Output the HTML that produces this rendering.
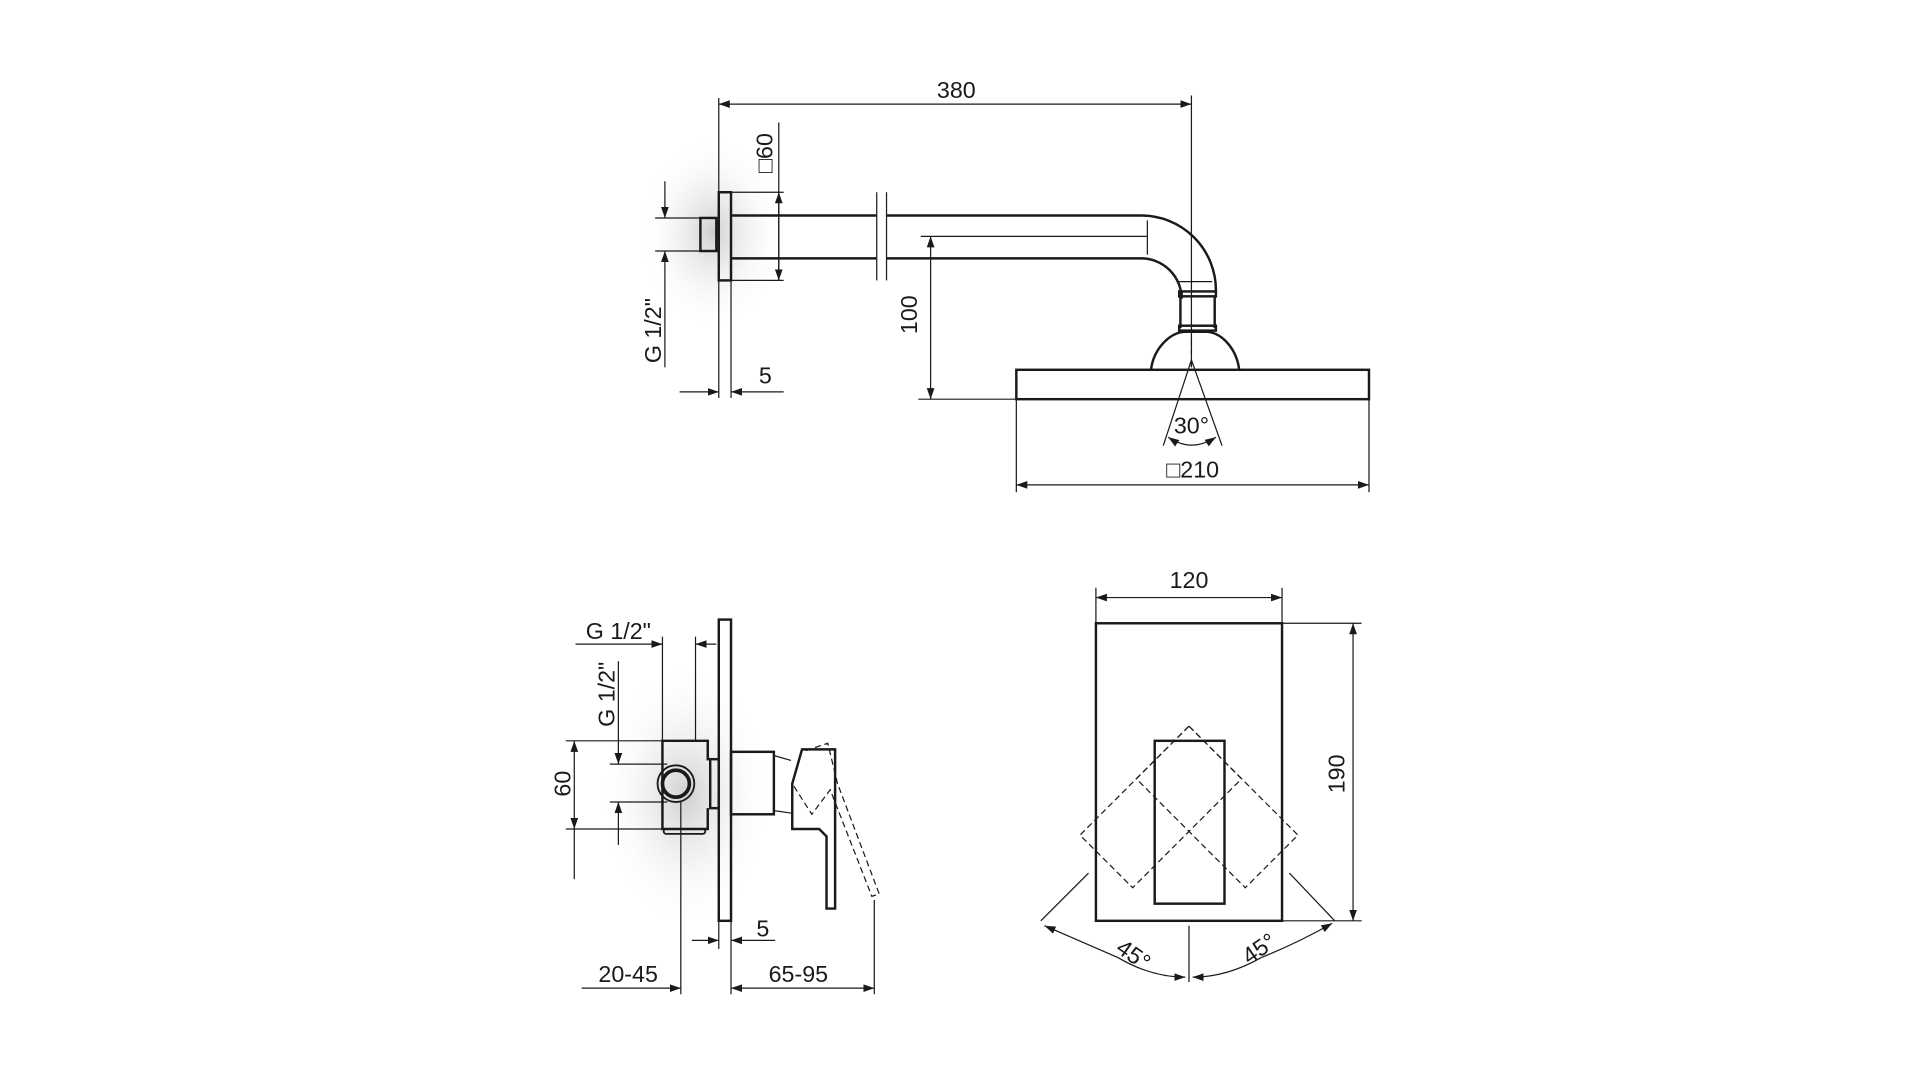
<!DOCTYPE html>
<html><head><meta charset="utf-8"><style>
html,body{margin:0;padding:0;background:#fff;}
svg{display:block}
text{font-family:"Liberation Sans",sans-serif;fill:#1a1a1a}
</style></head><body>
<svg width="1920" height="1080" viewBox="0 0 1568 882" xmlns="http://www.w3.org/2000/svg">
<defs>
<marker id="a" viewBox="0 0 10 10" refX="10" refY="5" markerWidth="9" markerHeight="9" orient="auto-start-reverse" markerUnits="userSpaceOnUse"><path d="M0,1.5 L10,5 L0,8.5 z" fill="#1a1a1a"/></marker>
<radialGradient id="sh" cx="0.5" cy="0.5" r="0.5"><stop offset="0" stop-color="#cfcfd2"/><stop offset="1" stop-color="#fff" stop-opacity="0"/></radialGradient>
</defs>
<ellipse cx="582" cy="190" rx="60" ry="80" fill="url(#sh)"/>
<ellipse cx="560" cy="650" rx="70" ry="110" fill="url(#sh)"/>
<g stroke="#1a1a1a" fill="none" stroke-width="1">
<!-- TOP -->
<line x1="587" y1="85" x2="973" y2="85" marker-start="url(#a)" marker-end="url(#a)"/>
<line x1="587" y1="80" x2="587" y2="325"/><line x1="597" y1="229" x2="597" y2="325"/>
<line x1="973" y1="78" x2="973" y2="300"/>
<rect x="587" y="157" width="10" height="72" stroke-width="2"/>
<rect x="572" y="178" width="13" height="27" stroke-width="2"/>
<line x1="535" y1="178" x2="585" y2="178"/><line x1="535" y1="205" x2="585" y2="205"/>
<line x1="543" y1="148" x2="543" y2="178" marker-end="url(#a)"/>
<line x1="543" y1="300" x2="543" y2="205" marker-end="url(#a)"/>
<line x1="597" y1="157" x2="640" y2="157"/><line x1="597" y1="229" x2="640" y2="229"/>
<line x1="636" y1="100" x2="636" y2="229"/>
<line x1="636" y1="190" x2="636" y2="157" marker-end="url(#a)"/>
<line x1="636" y1="190" x2="636" y2="229" marker-end="url(#a)"/>
<path d="M597,176 H716 M724,176 H932 A61,61 0 0 1 993,237 V238" stroke-width="2"/>
<path d="M597,211 H716 M724,211 H932 A33,33 0 0 1 965,244 V238" stroke-width="2"/>
<line x1="716" y1="157" x2="716" y2="229"/><line x1="724" y1="157" x2="724" y2="229"/>
<line x1="752" y1="193" x2="937" y2="193"/><line x1="937" y1="180" x2="937" y2="208"/>
<line x1="962" y1="230" x2="990" y2="230"/>
<rect x="963" y="238" width="30" height="4" stroke-width="2"/>
<path d="M964,242 V268 M992,242 V268" stroke-width="2"/>
<rect x="963" y="266" width="30" height="4" stroke-width="2"/>
<path d="M940,302 C942,285 955,272 967,271 H986 C998,272 1010,285 1012,302" stroke-width="2"/>
<rect x="830" y="302" width="288" height="24" stroke-width="2"/>
<line x1="750" y1="326" x2="830" y2="326"/>
<line x1="760" y1="260" x2="760" y2="193" marker-end="url(#a)"/>
<line x1="760" y1="260" x2="760" y2="326" marker-end="url(#a)"/>
<line x1="555" y1="320" x2="587" y2="320" marker-end="url(#a)"/>
<line x1="640" y1="320" x2="597" y2="320" marker-end="url(#a)"/>
<line x1="973" y1="278" x2="973" y2="290" stroke-dasharray="4,3"/>
<line x1="973" y1="294" x2="950" y2="364"/><line x1="973" y1="294" x2="998" y2="364"/>
<path d="M954,357 Q973,370 993,357" marker-start="url(#a)" marker-end="url(#a)"/>
<line x1="830" y1="326" x2="830" y2="402"/><line x1="1118" y1="326" x2="1118" y2="402"/>
<line x1="830" y1="396" x2="1118" y2="396" marker-start="url(#a)" marker-end="url(#a)"/>
<!-- BOTTOM LEFT -->
<rect x="587" y="506" width="10" height="246" stroke-width="2"/>
<line x1="470" y1="526" x2="541" y2="526" marker-end="url(#a)"/>
<line x1="585" y1="526" x2="568" y2="526" marker-end="url(#a)"/>
<line x1="541" y1="520" x2="541" y2="605"/><line x1="568" y1="520" x2="568" y2="605"/>
<path d="M578,621 V605 H541 V677 H578 V660" stroke-width="2"/>
<rect x="542" y="677" width="34" height="4" rx="2" stroke-width="1.5"/>
<circle cx="552" cy="640" r="15" stroke-width="1.5"/>
<circle cx="552" cy="640" r="11" stroke-width="3"/>
<rect x="580" y="620" width="7" height="40" stroke-width="2"/>
<line x1="498" y1="624" x2="545" y2="624"/><line x1="498" y1="655" x2="545" y2="655"/>
<line x1="505" y1="540" x2="505" y2="624" marker-end="url(#a)"/>
<line x1="505" y1="690" x2="505" y2="655" marker-end="url(#a)"/>
<line x1="462" y1="605" x2="541" y2="605"/><line x1="462" y1="677" x2="541" y2="677"/>
<line x1="469" y1="640" x2="469" y2="605" marker-end="url(#a)"/>
<line x1="469" y1="640" x2="469" y2="677" marker-end="url(#a)"/>
<line x1="469" y1="677" x2="469" y2="718"/>
<rect x="597" y="614" width="35" height="51" stroke-width="2"/>
<path d="M632,617 L646,621 M632,662 L646,664"/>
<path d="M655,612 H682 V742 H675 V683 L669,677 H647 V640 Z" stroke-width="2"/>
<path d="M658,613 L676,607 L684,640 L718,730 L712,732 L678,645 L663,665 L647,640" stroke-dasharray="5,3"/>
<line x1="556" y1="655" x2="556" y2="812"/>
<line x1="714" y1="735" x2="714" y2="812"/>
<line x1="597" y1="752" x2="597" y2="812"/>
<line x1="587" y1="752" x2="587" y2="775"/>
<line x1="565" y1="768" x2="587" y2="768" marker-end="url(#a)"/>
<line x1="633" y1="768" x2="597" y2="768" marker-end="url(#a)"/>
<line x1="475" y1="807" x2="556" y2="807" marker-end="url(#a)"/>
<line x1="597" y1="807" x2="714" y2="807" marker-start="url(#a)" marker-end="url(#a)"/>
<!-- BOTTOM RIGHT -->
<rect x="895" y="509" width="152" height="243" stroke-width="2"/>
<rect x="943" y="605" width="57" height="133" stroke-width="2"/>
<line x1="895" y1="480" x2="895" y2="509"/><line x1="1047" y1="480" x2="1047" y2="509"/>
<line x1="895" y1="488" x2="1047" y2="488" marker-start="url(#a)" marker-end="url(#a)"/>
<line x1="1047" y1="509" x2="1112" y2="509"/><line x1="1047" y1="752" x2="1112" y2="752"/>
<line x1="1105" y1="509" x2="1105" y2="752" marker-start="url(#a)" marker-end="url(#a)"/>
<g stroke-dasharray="5,3">
<path d="M971,593 L1014,636 L925,725 L882,682 Z"/>
<path d="M971,593 L928,636 L1017,725 L1060,682 Z"/>
</g>
<line x1="971" y1="756" x2="971" y2="802"/>
<line x1="889" y1="713" x2="850" y2="752"/>
<line x1="1053" y1="713" x2="1090" y2="752"/>
<path d="M913,782 Q940,798 968,798" marker-end="url(#a)"/>
<path d="M913,782 Q885,770 853,756" marker-end="url(#a)"/>
<path d="M1030,782 Q1002,798 974,798" marker-end="url(#a)"/>
<path d="M1030,782 Q1060,770 1088,754" marker-end="url(#a)"/>
</g>
<g font-size="19">
<text x="781" y="80" text-anchor="middle">380</text>
<text x="974" y="390" text-anchor="middle">□210</text>
<text x="973" y="354" text-anchor="middle">30°</text>
<text x="625" y="313" text-anchor="middle">5</text>
<text transform="translate(631,125) rotate(-90)" text-anchor="middle">□60</text>
<text transform="translate(540,270) rotate(-90)" text-anchor="middle">G 1/2"</text>
<text transform="translate(749,257) rotate(-90)" text-anchor="middle">100</text>
<text x="505" y="522" text-anchor="middle">G 1/2"</text>
<text transform="translate(502,567) rotate(-90)" text-anchor="middle">G 1/2"</text>
<text transform="translate(466,640) rotate(-90)" text-anchor="middle">60</text>
<text x="623" y="765" text-anchor="middle">5</text>
<text x="513" y="802" text-anchor="middle">20-45</text>
<text x="652" y="802" text-anchor="middle">65-95</text>
<text x="971" y="480" text-anchor="middle">120</text>
<text transform="translate(1098,632) rotate(-90)" text-anchor="middle">190</text>
<text transform="translate(922,785) rotate(35)" text-anchor="middle">45°</text>
<text transform="translate(1032,780) rotate(-35)" text-anchor="middle">45°</text>
</g>
</svg>
</body></html>
